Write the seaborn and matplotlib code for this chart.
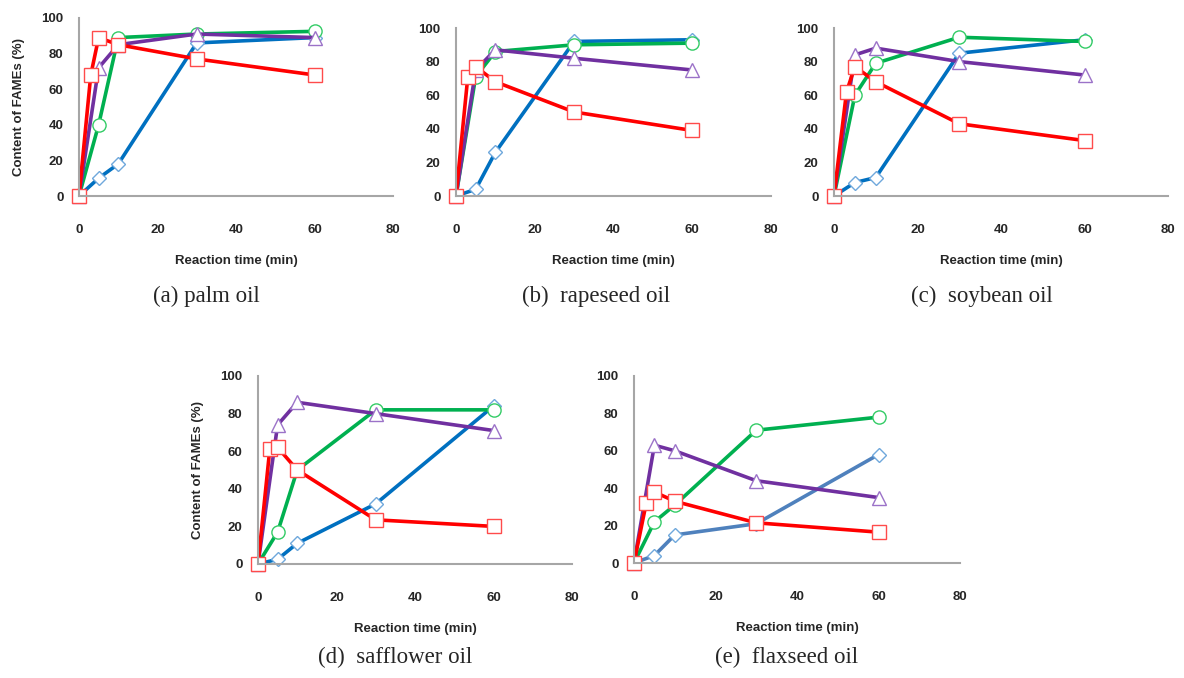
import matplotlib
matplotlib.use("Agg")
import matplotlib.pyplot as plt
import seaborn as sns

# sampling times (min)
t_red = [0, 3, 5, 10, 30, 60]
t_other = [0, 5, 10, 30, 60]

captions = ["(a) palm oil", "(b)  rapeseed oil", "(c)  soybean oil",
            "(d)  safflower oil", "(e)  flaxseed oil"]

# content of FAMEs (%), one row per oil: palm, rapeseed, soybean, safflower, flaxseed
blue = [
    [0, 10, 18, 86, 89],
    [0, 4, 26, 92, 93],
    [0, 8, 11, 85, 93],
    [0, 2.5, 11, 32, 84],
    [0, 4, 15, 21, 58],
]
green = [
    [0, 40, 89, 91, 92.5],
    [0, 71, 86, 90, 91],
    [0, 60, 79, 94.5, 92],
    [0, 17, 50, 82, 82],
    [0, 22, 31, 71, 78],
]
purple = [
    [0, 72, 85, 91, 89],
    [0, 75, 87, 82, 75],
    [0, 84, 88, 80, 72],
    [0, 74, 86, 80, 71],
    [0, 63, 60, 44, 35],
]
red = [
    [0, 68, 89, 85, 77, 68],
    [0, 71, 77, 68, 50, 39],
    [0, 62, 77, 68, 43, 33],
    [0, 61, 62, 50, 23.5, 20],
    [0, 32, 38, 33, 21.5, 16.5],
]

xticks = [0, 20, 40, 60, 80]
yticks = [0, 20, 40, 60, 80, 100]

W, H = 1184, 678
# axes boxes in pixels: left, right, top, bottom
boxes = [
    (79, 393, 18, 196),
    (456, 771, 28, 196),
    (834, 1168, 28, 196),
    (258, 572, 376, 564),
    (634, 960, 376, 563),
]
caption_pos = [(206, 296), (596, 296), (982, 296), (395, 657), (787, 657)]

sns.set_style("white")
plt.rcParams["font.family"] = ["Liberation Sans", "DejaVu Sans"]

fig = plt.figure(figsize=(W / 100, H / 100), dpi=100)

axis_grey = "#A6A6A6"

for i, (l, r, t, b) in enumerate(boxes):
    ax = fig.add_axes([l / W, 1 - b / H, (r - l) / W, (b - t) / H])
    ax.set_facecolor("none")

    blue_line = "#4F81BD" if i == 4 else "#0070C0"
    sns.lineplot(x=t_other, y=blue[i], ax=ax, color=blue_line, linewidth=2.6,
                 marker="D", markersize=7, markerfacecolor="white",
                 markeredgecolor="#6FA8DC", markeredgewidth=1, clip_on=False)
    sns.lineplot(x=t_other, y=green[i], ax=ax, color="#00B050", linewidth=2.6,
                 marker="o", markersize=9.5, markerfacecolor="white",
                 markeredgecolor="#33CC66", markeredgewidth=1, clip_on=False)
    sns.lineplot(x=t_other, y=purple[i], ax=ax, color="#7030A0", linewidth=2.6,
                 marker="^", markersize=10, markerfacecolor="white",
                 markeredgecolor="#9B72C8", markeredgewidth=1, clip_on=False)
    sns.lineplot(x=t_red, y=red[i], ax=ax, color="#FF0000", linewidth=2.6,
                 marker="s", markersize=10.5, markerfacecolor="white",
                 markeredgecolor="#FF4B4B", markeredgewidth=1, clip_on=False)

    ax.set_xlim(0, 80)
    ax.set_ylim(0, 100)
    ax.set_xticks(xticks)
    ax.set_yticks(yticks)
    for s in ["top", "right"]:
        ax.spines[s].set_visible(False)
    for s in ["left", "bottom"]:
        ax.spines[s].set_color(axis_grey)
        ax.spines[s].set_linewidth(1.5)
    ax.tick_params(axis="x", direction="out", length=5, width=1.2,
                   color=axis_grey, pad=15, labelsize=9.5)
    ax.tick_params(axis="y", direction="out", length=5, width=1.2,
                   color=axis_grey, pad=6, labelsize=9.5)
    for lab in ax.get_xticklabels() + ax.get_yticklabels():
        lab.set_fontweight("bold")

    ax.set_xlabel("Reaction time (min)", fontsize=9.5, fontweight="bold", labelpad=14)
    if i in (0, 3):
        ax.set_ylabel("Content of FAMEs (%)", fontsize=9.5, fontweight="bold")
        ax.yaxis.set_label_coords(-0.172, 0.5)
    else:
        ax.set_ylabel("")

    cx, cy = caption_pos[i]
    fig.text(cx / W, 1 - cy / H, captions[i], ha="center", va="center",
             fontsize=16.5, family="Liberation Serif")

fig.savefig("out.png", dpi=100)
